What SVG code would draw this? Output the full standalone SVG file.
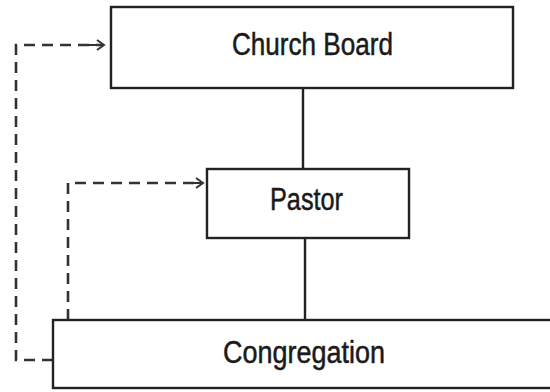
<svg xmlns="http://www.w3.org/2000/svg" width="550" height="392" viewBox="0 0 550 392">
<defs>
<style>
.box{fill:#fff;stroke:#222;stroke-width:2.4}
.lbl{font-family:"Liberation Sans",Arial,sans-serif;font-size:31px;fill:#1a1a1a;stroke:#1a1a1a;stroke-width:0.5;text-anchor:middle}
.solid{fill:none;stroke:#222;stroke-width:2.4}
.dash{fill:none;stroke:#333;stroke-width:2.6;stroke-dasharray:11 7}
.head{fill:none;stroke:#333;stroke-width:2}
</style>
</defs>
<rect width="550" height="392" fill="#fff"/>
<g id="connectors">
<line class="solid" x1="303" y1="88" x2="303" y2="169"/>
<line class="solid" x1="305" y1="238" x2="305" y2="320"/>
<path class="dash" d="M53 360 H16 V45 H100"/>
<path class="head" d="M89 45 H104 M97 40 L104 45 L97 50"/>
<path class="dash" d="M68 320 V183 H198"/>
<path class="head" d="M190 183 H203 M196 178 L203 183 L196 188"/>
</g>
<g id="church-board">
<rect class="box" x="111" y="7" width="402" height="81"/>
<text class="lbl" x="312.5" y="55" textLength="161" lengthAdjust="spacingAndGlyphs">Church Board</text>
</g>
<g id="pastor">
<rect class="box" x="207" y="169" width="202" height="69"/>
<text class="lbl" x="306.5" y="210" textLength="73" lengthAdjust="spacingAndGlyphs">Pastor</text>
</g>
<g id="congregation">
<rect class="box" x="53" y="320" width="510" height="68"/>
<text class="lbl" x="304" y="363" textLength="162" lengthAdjust="spacingAndGlyphs">Congregation</text>
</g>
</svg>
